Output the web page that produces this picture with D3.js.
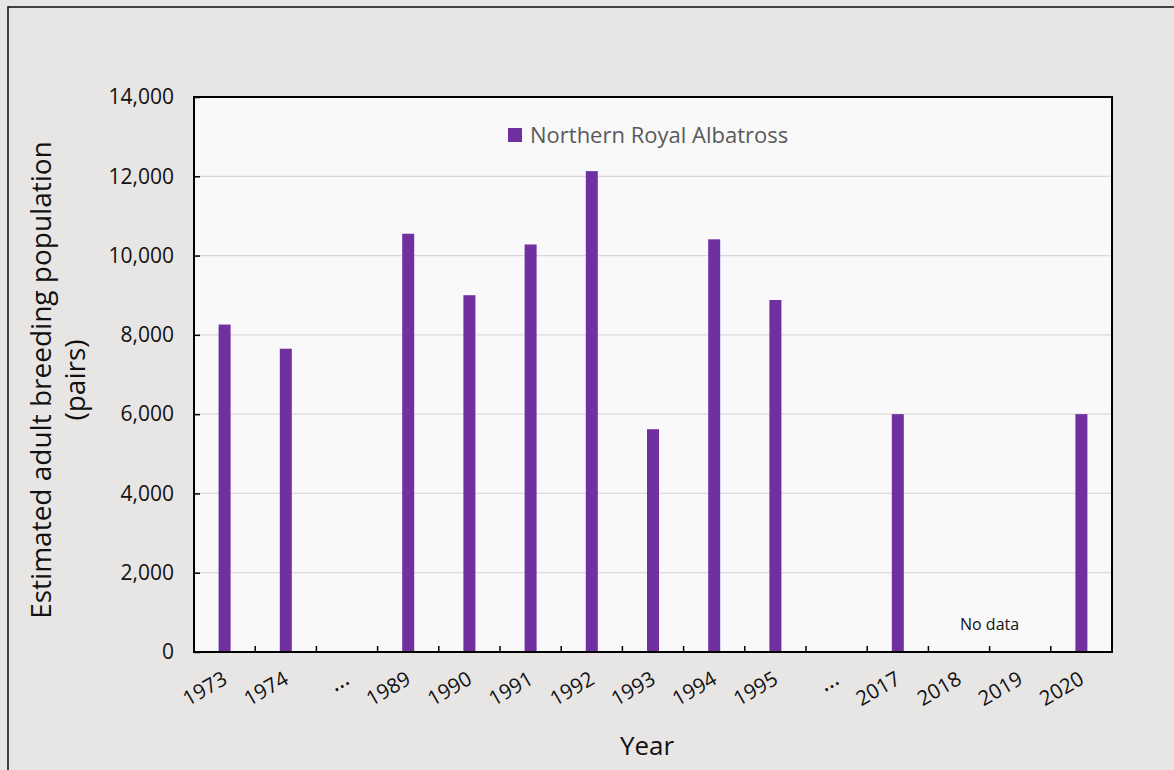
<!DOCTYPE html>
<html>
<head>
<meta charset="utf-8">
<script src="https://cdn.jsdelivr.net/npm/d3@7"></script>
<style>
  html, body { margin: 0; padding: 0; background: #e8e5e5; }
  svg { display: block; font-family: "Open Sans", sans-serif; }
</style>
</head>
<body>
<script>
// x categories ("…" marks skipped years)
const years = ["1973", "1974", "…1", "1989", "1990", "1991", "1992", "1993", "1994", "1995", "…2", "2017", "2018", "2019", "2020"];
// breeding pairs, null where nothing is drawn
const pairs = [8260, 7650, null, 10550, 9000, 10280, 12130, 5620, 10410, 8880, null, 6000, null, null, 6000];
const yTicks = [0, 2000, 4000, 6000, 8000, 10000, 12000, 14000];
const seriesName = "Northern Royal Albatross";

function main() {
  const width = 1174;
  const height = 770;
  const margin = { top: 97, right: 62, bottom: 118, left: 194 };

  const rows = years.map((y, i) => ({ year: y, value: pairs[i] }));

  const x = d3.scaleBand()
    .domain(years)
    .range([margin.left, width - margin.right])
    .paddingInner(0)
    .paddingOuter(0);

  const y = d3.scaleLinear()
    .domain([0, 14000])
    .range([height - margin.bottom, margin.top]);

  const svg = d3.create("svg")
    .attr("width", width)
    .attr("height", height);

  // outer frame
  svg.append("rect")
    .attr("x", 8).attr("y", 7)
    .attr("width", width + 10).attr("height", height + 10)
    .attr("fill", "#e8e5e5")
    .attr("stroke", "#1a1a1a")
    .attr("stroke-width", 1.6);

  // plot background
  svg.append("rect")
    .attr("x", margin.left).attr("y", margin.top)
    .attr("width", width - margin.left - margin.right)
    .attr("height", height - margin.top - margin.bottom)
    .attr("fill", "#f9f9f9");

  // gridlines
  svg.append("g")
    .selectAll("line")
    .data(yTicks.filter(d => d > 0 && d < 14000))
    .join("line")
    .attr("x1", margin.left).attr("x2", width - margin.right)
    .attr("y1", d => y(d)).attr("y2", d => y(d))
    .attr("stroke", "#d9d9d9")
    .attr("stroke-width", 1.3);

  // bars
  const barW = 12;
  svg.append("g")
    .attr("fill", "#7030a0")
    .selectAll("rect")
    .data(rows.filter(d => d.value != null))
    .join("rect")
    .attr("x", d => x(d.year) + x.bandwidth() / 2 - barW / 2)
    .attr("y", d => y(d.value))
    .attr("width", barW)
    .attr("height", d => y(0) - y(d.value));

  // y axis
  const gy = svg.append("g")
    .attr("transform", `translate(${margin.left},0)`)
    .call(d3.axisLeft(y).tickValues(yTicks).tickFormat(d3.format(",")).tickSizeInner(-6).tickSizeOuter(0).tickPadding(20));
  gy.select(".domain").remove();
  gy.selectAll(".tick line").attr("stroke", "#000").attr("stroke-width", 1.5);
  gy.selectAll(".tick text").attr("font-size", 21).attr("fill", "#111").attr("font-family", "Open Sans, sans-serif");

  // x axis: ticks at band boundaries pointing up
  const bounds = years.slice(1).map(d => x(d));
  svg.append("g")
    .selectAll("line")
    .data(bounds)
    .join("line")
    .attr("x1", d => d).attr("x2", d => d)
    .attr("y1", y(0)).attr("y2", y(0) - 6)
    .attr("stroke", "#000").attr("stroke-width", 1.5);

  svg.append("g")
    .selectAll("text")
    .data(years)
    .join("text")
    .attr("transform", d => `translate(${x(d) + x.bandwidth() / 2 + 4},${y(0) + 31}) rotate(-30)`)
    .attr("text-anchor", "end")
    .attr("font-size", d => d.startsWith("…") ? 24 : 20.5)
    .attr("letter-spacing", d => d.startsWith("…") ? 0 : 0)
    .attr("fill", "#111")
    .text(d => d.startsWith("…") ? "…" : d);

  // plot border
  svg.append("rect")
    .attr("x", margin.left).attr("y", margin.top)
    .attr("width", width - margin.left - margin.right)
    .attr("height", height - margin.top - margin.bottom)
    .attr("fill", "none")
    .attr("stroke", "#000")
    .attr("stroke-width", 2);

  // "No data" note between 2018 and 2019
  svg.append("text")
    .attr("x", x("2019"))
    .attr("y", y(0) - 22)
    .attr("text-anchor", "middle")
    .attr("font-size", 16)
    .attr("fill", "#111")
    .text("No data");

  // legend
  const leg = svg.append("g").attr("transform", "translate(508,128)");
  leg.append("rect").attr("width", 14).attr("height", 14).attr("fill", "#7030a0");
  leg.append("text")
    .attr("x", 22).attr("y", 15)
    .attr("font-size", 22)
    .attr("fill", "#595959")
    .text(seriesName);

  // axis titles
  svg.append("text")
    .attr("x", (margin.left + width - margin.right) / 2 - 6)
    .attr("y", 755)
    .attr("text-anchor", "middle")
    .attr("font-size", 26)
    .attr("fill", "#111")
    .text("Year");

  const yt = svg.append("text")
    .attr("transform", "translate(51,380) rotate(-90)")
    .attr("text-anchor", "middle")
    .attr("font-size", 28)
    .attr("fill", "#111");
  yt.append("tspan").attr("x", 0).attr("dy", 0).text("Estimated adult breeding population");
  yt.append("tspan").attr("x", 0).attr("dy", 34).text("(pairs)");

  document.body.appendChild(svg.node());
}

main();
</script>
</body>
</html>
